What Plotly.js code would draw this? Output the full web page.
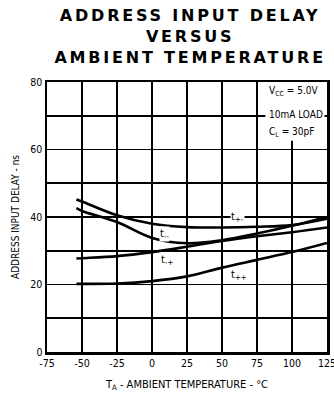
<!DOCTYPE html>
<html><head><meta charset="utf-8">
<script src="https://cdn.plot.ly/plotly-3.0.1.min.js"></script>
<style>body{margin:0;background:#fff}#c{width:334px;height:394px}</style>
</head><body><div id="c"></div>
<script>
const temps = [-54, -50, -25, 0, 25, 50, 75, 100, 125];
const tPlusMinus  = [45.2, 44.6, 40.5, 38.0, 37.0, 36.9, 37.1, 37.6, 39.5];
const tMinusMinus = [42.6, 41.8, 38.5, 33.8, 32.2, 33.1, 35.1, 37.4, 40.0];
const tMinusPlus  = [27.7, 27.8, 28.4, 29.6, 31.2, 32.9, 34.3, 35.5, 36.9];
const tPlusPlus   = [20.2, 20.2, 20.3, 21.0, 22.4, 25.0, 27.3, 29.6, 32.3];
const xTicks = [-75, -50, -25, 0, 25, 50, 75, 100, 125];
const yTicks = [0, 10, 20, 30, 40, 50, 60, 70, 80];
const yTickText = ['0', '', '20', '', '40', '', '60', '', '80'];
const titleLines = ['ADDRESS INPUT DELAY', 'VERSUS', 'AMBIENT TEMPERATURE'];
const curveLabels = [
  {text: 't<sub>+-</sub>', x: 61, y: 40},
  {text: 't<sub>--</sub>', x: 9, y: 35},
  {text: 't<sub>-+</sub>', x: 11, y: 27.2},
  {text: 't<sub>++</sub>', x: 62, y: 22.8}
];
const conditions = ['V<sub>CC</sub> = 5.0V', '10mA LOAD', 'C<sub>L</sub> = 30pF'];
const conditionY = [77.3, 70.4, 65.0];

const line = {color: '#000', width: 2.6, shape: 'spline', smoothing: 1};
const series = [tPlusMinus, tMinusMinus, tMinusPlus, tPlusPlus];
const data = series.map(s => ({x: temps, y: s, mode: 'lines', line: line, hoverinfo: 'skip'}));

const fam = '"DejaVu Sans Condensed", "Liberation Sans", sans-serif';
const font = (size) => ({family: fam, size: size, color: '#000'});
const annotations = curveLabels.map(l => ({
  x: l.x, y: l.y, xref: 'x', yref: 'y', text: l.text, showarrow: false,
  bgcolor: '#fff', borderpad: 0, font: font(11)
}));
conditions.forEach((t, i) => annotations.push({
  x: 82, y: conditionY[i], xref: 'x', yref: 'y', xanchor: 'left', text: t, showarrow: false,
  bgcolor: '#fff', borderpad: 1, font: font(10)
}));
annotations.push({
  x: 0.512, y: 1.167, xref: 'paper', yref: 'paper', xanchor: 'center', yanchor: 'middle',
  text: '<b>' + titleLines.join('<br>') + '</b>', showarrow: false,
  font: {family: '"DejaVu Sans", Arial, sans-serif', size: 16, color: '#000'}
});

const layout = {
  width: 334, height: 394,
  margin: {l: 47, r: 7, t: 82, b: 42},
  paper_bgcolor: '#fff', plot_bgcolor: '#fff',
  showlegend: false,
  xaxis: {
    range: [-75, 125], tickvals: xTicks, ticktext: xTicks.map(String),
    showgrid: true, gridcolor: '#000', gridwidth: 1.6, zeroline: false,
    showline: true, linecolor: '#000', linewidth: 2.5, mirror: true,
    ticks: '', tickfont: font(10.5), ticklabeloverflow: 'allow',
    title: {text: 'T<sub>A</sub> - AMBIENT TEMPERATURE - °C', standoff: 12, font: font(11)},
    fixedrange: true
  },
  yaxis: {
    range: [0, 80], tickvals: yTicks, ticktext: yTickText,
    showgrid: true, gridcolor: '#000', gridwidth: 1.6, zeroline: false,
    showline: true, linecolor: '#000', linewidth: 2.5, mirror: true,
    ticks: '', tickfont: font(10.5),
    title: {text: 'ADDRESS INPUT DELAY - ns', standoff: 9, font: font(10)},
    fixedrange: true
  },
  annotations: annotations,
  shapes: [{type: 'rect', xref: 'x', yref: 'y', x0: 81, x1: 120, y0: 62.7, y1: 80, fillcolor: '#fff', line: {width: 0}, layer: 'above'}]
};
Plotly.newPlot('c', data, layout, {displayModeBar: false, staticPlot: true}).then(gd => {
  gd.querySelectorAll('.annotation-text').forEach(el => {
    if (el.textContent.indexOf('VERSUS') >= 0) el.style.letterSpacing = '2.8px';
  });
});
</script></body></html>
